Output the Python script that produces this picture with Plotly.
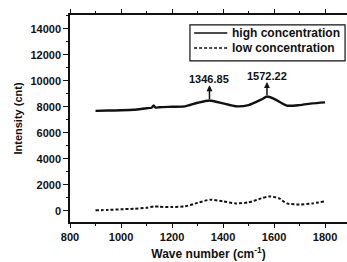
import plotly.graph_objects as go

# Data
wave_high = [900, 950, 1000, 1050, 1100, 1120, 1128, 1135, 1150, 1200, 1250, 1300, 1346.85,
             1400, 1450, 1500, 1550, 1572.22, 1600, 1650, 1700, 1750, 1800]
int_high = [7680, 7700, 7720, 7760, 7880, 7920, 8100, 7930, 7960, 7990, 8020, 8300, 8480,
            8250, 8030, 8120, 8550, 8780, 8600, 8080, 8120, 8250, 8330]

wave_low = [900, 950, 1000, 1050, 1100, 1130, 1150, 1200, 1250, 1300, 1350, 1400, 1450,
            1500, 1550, 1580, 1620, 1650, 1700, 1750, 1800]
int_low = [30, 60, 110, 150, 220, 330, 300, 280, 330, 600, 850, 720, 560,
           640, 950, 1100, 950, 560, 480, 560, 720]

peak_pos = [1346.85, 1572.22]
peak_labels = ["1346.85", "1572.22"]
peak_base = [8480, 8780]
peak_tip = [9650, 9900]
peak_text_y = [10150, 10380]

series_names = ["high concentration", "low concentration"]

x_ticks = [800, 1000, 1200, 1400, 1600, 1800]
y_ticks = [0, 2000, 4000, 6000, 8000, 10000, 12000, 14000]

FONT = "Liberation Sans, Arial, sans-serif"
INK = "#111111"

fig = go.Figure()
fig.add_trace(go.Scatter(x=wave_high, y=int_high, mode="lines", name=series_names[0],
                         line=dict(color=INK, width=2.4, shape="spline", smoothing=0.6)))
fig.add_trace(go.Scatter(x=wave_low, y=int_low, mode="lines", name=series_names[1],
                         line=dict(color=INK, width=2, dash="3px,2px", shape="spline", smoothing=0.6)))

for xp, lab, yb, yt, ty in zip(peak_pos, peak_labels, peak_base, peak_tip, peak_text_y):
    fig.add_annotation(x=xp, y=yt, ax=xp, ay=yb, axref="x", ayref="y", xref="x", yref="y",
                       text="", showarrow=True, arrowhead=2, arrowsize=0.8, arrowwidth=1.5,
                       arrowcolor=INK)
    fig.add_annotation(x=xp, y=ty, xref="x", yref="y", text="<b>" + lab + "</b>",
                       showarrow=False, font=dict(family=FONT, size=11, color=INK))

# manual legend box (paper coordinates)
fig.add_shape(type="rect", xref="paper", yref="paper", x0=0.433, x1=0.993, y0=0.778, y1=0.952,
              line=dict(color=INK, width=1.2), fillcolor="white", layer="above")
leg_rows = [0.913, 0.841]
leg_dash = ["solid", "3px,2px"]
for name, yy, dsh in zip(series_names, leg_rows, leg_dash):
    fig.add_shape(type="line", xref="paper", yref="paper", x0=0.448, x1=0.568, y0=yy, y1=yy,
                  line=dict(color=INK, width=1.5, dash=dsh), layer="above")
    fig.add_annotation(x=0.578, y=yy, xref="paper", yref="paper", xanchor="left", yanchor="middle",
                       text="<b>" + name + "</b>", showarrow=False,
                       font=dict(family=FONT, size=12, color=INK))

fig.update_layout(
    width=347, height=262,
    margin=dict(l=70, r=0, t=15, b=40),
    paper_bgcolor="white", plot_bgcolor="white",
    font=dict(family=FONT, size=11, color=INK),
    showlegend=False,
    xaxis=dict(range=[800, 1886], tickvals=x_ticks, ticktext=["<b>%d</b>" % v for v in x_ticks],
               showgrid=False, zeroline=False, showline=True, linecolor=INK, linewidth=1.5,
               mirror="ticks", ticks="outside", ticklen=4, tickwidth=1.2, tickcolor=INK,
               minor=dict(dtick=100, ticks="outside", ticklen=2, tickcolor=INK),
               title=dict(text="<b>Wave number (cm<sup>-1</sup>)</b>", standoff=8,
                          font=dict(family=FONT, size=12))),
    yaxis=dict(range=[-870, 15050], tickvals=y_ticks, ticktext=["<b>%d</b>" % v for v in y_ticks],
               showgrid=False, zeroline=False, showline=True, linecolor=INK, linewidth=1.5,
               ticks="outside", ticklen=5, tickwidth=1.2, tickcolor=INK,
               minor=dict(dtick=1000, ticks="outside", ticklen=2, tickcolor=INK),
               title=dict(text="<b>Intensity (cnt)</b>", standoff=6,
                          font=dict(family=FONT, size=11))),
)

fig.write_html("out.html", config={"displayModeBar": False},
               post_script="document.body.style.margin='0';")
